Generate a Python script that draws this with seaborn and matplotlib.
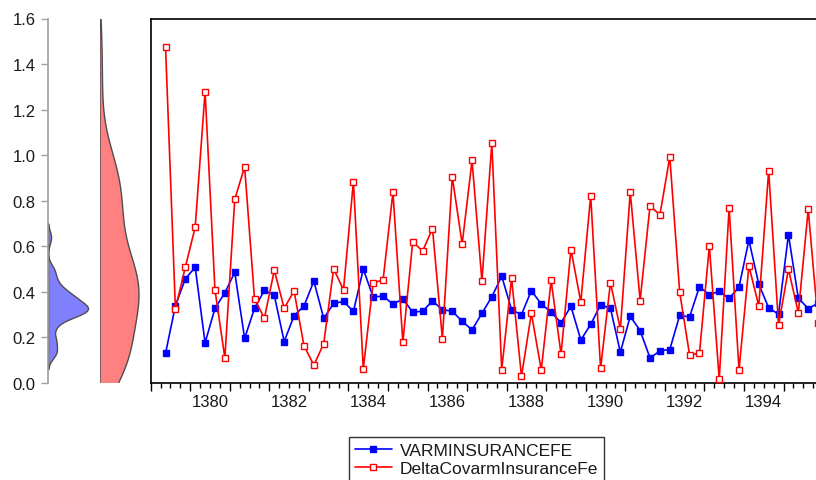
import numpy as np
import pandas as pd
import matplotlib
matplotlib.use("Agg")
import matplotlib.pyplot as plt
import seaborn as sns

# ---------------- data ----------------
quarters = [f"{y}Q{q}" for y in range(1379, 1396) for q in range(1, 5)][1:]  # 1379Q2 .. 1395Q4

varm = [0.130, 0.340, 0.457, 0.508, 0.176, 0.328, 0.396, 0.486, 0.196, 0.328,
        0.407, 0.385, 0.182, 0.295, 0.338, 0.447, 0.284, 0.349, 0.358, 0.314,
        0.500, 0.377, 0.382, 0.346, 0.369, 0.311, 0.315, 0.360, 0.322, 0.315,
        0.271, 0.233, 0.306, 0.378, 0.469, 0.321, 0.300, 0.406, 0.346, 0.311,
        0.264, 0.337, 0.189, 0.257, 0.343, 0.328, 0.135, 0.293, 0.230, 0.110,
        0.141, 0.147, 0.297, 0.290, 0.423, 0.387, 0.403, 0.371, 0.421, 0.627,
        0.434, 0.330, 0.302, 0.651, 0.372, 0.327, 0.350]

delta = [1.477, 0.325, 0.508, 0.684, 1.279, 0.409, 0.110, 0.806, 0.949, 0.369,
         0.284, 0.495, 0.328, 0.404, 0.164, 0.078, 0.173, 0.501, 0.409, 0.884,
         0.062, 0.441, 0.451, 0.837, 0.179, 0.620, 0.579, 0.678, 0.195, 0.905,
         0.610, 0.977, 0.447, 1.053, 0.059, 0.460, 0.029, 0.306, 0.057, 0.450,
         0.126, 0.586, 0.356, 0.822, 0.064, 0.441, 0.236, 0.838, 0.362, 0.778,
         0.738, 0.992, 0.399, 0.123, 0.130, 0.601, 0.016, 0.768, 0.057, 0.514,
         0.338, 0.932, 0.255, 0.500, 0.308, 0.762, 0.265]

series_names = ["VARMINSURANCEFE", "DeltaCovarmInsuranceFe"]
year_labels = ["1380", "1382", "1384", "1386", "1388", "1390", "1392", "1394"]
y_labels = ["0.0", "0.2", "0.4", "0.6", "0.8", "1.0", "1.2", "1.4", "1.6"]

# numeric time position: middle of each quarter
t = [int(s[:4]) + (int(s[-1]) - 1) / 4 + 0.125 for s in quarters]
df = pd.DataFrame({"t": t, "varm": varm, "delta": delta})

# ---------------- style ----------------
sns.set_theme(style="white")
plt.rcParams["font.family"] = ["Liberation Sans", "DejaVu Sans"]
TXT = "#1a1a1a"

W, H = 816, 481
fig = plt.figure(figsize=(W / 100, H / 100), dpi=100)
fig.patch.set_facecolor("white")

def fy(py):
    return 1 - py / H

y_bot, y_top = 384, 19.5
ax_h = (y_bot - y_top) / H
year_px = 39.55
x0 = 150.7

ax = fig.add_axes([x0 / W, fy(y_bot), 17 * year_px / W, ax_h])
axb = fig.add_axes([48 / W, fy(y_bot), 52 / W, ax_h])
axr = fig.add_axes([100 / W, fy(y_bot), 50 / W, ax_h])
for a in (axb, axr):
    a.set_facecolor("none")

# ---------------- density panels ----------------
sns.kdeplot(y=df["varm"], ax=axb, fill=True, color="#8080ff", alpha=1,
            edgecolor="#4d4d4d", linewidth=1, bw_adjust=0.55, cut=2)
sns.kdeplot(y=df["delta"], ax=axr, fill=True, color="#ff8080", alpha=1,
            edgecolor="#4d4d4d", linewidth=1, bw_adjust=0.95, cut=3)

for a, width_px, max_px in ((axb, 52, 40), (axr, 50, 39)):
    peak = max(p.vertices[:, 0].max() for c in a.collections for p in c.get_paths())
    a.set_xlim(0, peak * width_px / max_px)
    a.set_ylim(0, 1.6)
    a.set_xlabel("")
    a.set_ylabel("")
    a.set_xticks([])
    for s in a.spines.values():
        s.set_visible(False)

axb.spines["left"].set_visible(True)
axb.spines["left"].set_color("#a0a0a0")
axb.spines["left"].set_linewidth(1.2)
axb.set_yticks([float(v) for v in y_labels], labels=y_labels)
axb.tick_params(axis="y", left=True, length=5, width=1, color="#a0a0a0",
                labelsize=12, labelcolor=TXT, pad=4)
axr.set_yticks([])

# ---------------- main line chart ----------------
sns.lineplot(data=df, x="t", y="varm", ax=ax, color="#0000ff", linewidth=1.2,
             marker="s", markersize=5, markerfacecolor="#0000ff",
             markeredgecolor="#0000ff", markeredgewidth=1, zorder=3)
sns.lineplot(data=df, x="t", y="delta", ax=ax, color="#ff0000", linewidth=1.2,
             marker="s", markersize=5, markerfacecolor="white",
             markeredgecolor="#ff0000", markeredgewidth=1, zorder=4)

ax.set_xlim(1379, 1396)
ax.set_ylim(0, 1.6)
ax.set_xlabel("")
ax.set_ylabel("")
ax.set_yticks([])
ax.set_xticks(np.arange(1379, 1397), labels=[""] * 18)
ax.set_xticks(np.arange(1379, 1396.01, 0.25), minor=True)
ax.tick_params(axis="x", which="major", bottom=True, direction="out",
               length=5.8, width=1, color="black")
ax.tick_params(axis="x", which="minor", bottom=True, direction="out",
               length=3.6, width=1, color="black")
for side in ("left", "top", "bottom", "right"):
    ax.spines[side].set_color("black")
    ax.spines[side].set_linewidth(1.2)

sec = ax.secondary_xaxis("bottom")
sec.set_xticks([int(v) + 0.5 for v in year_labels], labels=year_labels)
sec.tick_params(axis="x", length=0, pad=8, labelsize=12, labelcolor=TXT)
sec.spines["bottom"].set_visible(False)

# ---------------- legend ----------------
handles = [ax.lines[0], ax.lines[1]]
leg = fig.legend(handles, series_names, loc="upper left",
                 bbox_to_anchor=(349 / W, fy(437.5)), bbox_transform=fig.transFigure,
                 frameon=True, fancybox=False, edgecolor="black", facecolor="white",
                 fontsize=12.5, handlelength=2.1, handletextpad=0.46,
                 borderpad=0.35, labelspacing=0.2, borderaxespad=0, markerscale=0.9)
leg.get_frame().set_linewidth(1)
for tx in leg.get_texts():
    tx.set_color(TXT)

fig.savefig("out.png", dpi=100)
